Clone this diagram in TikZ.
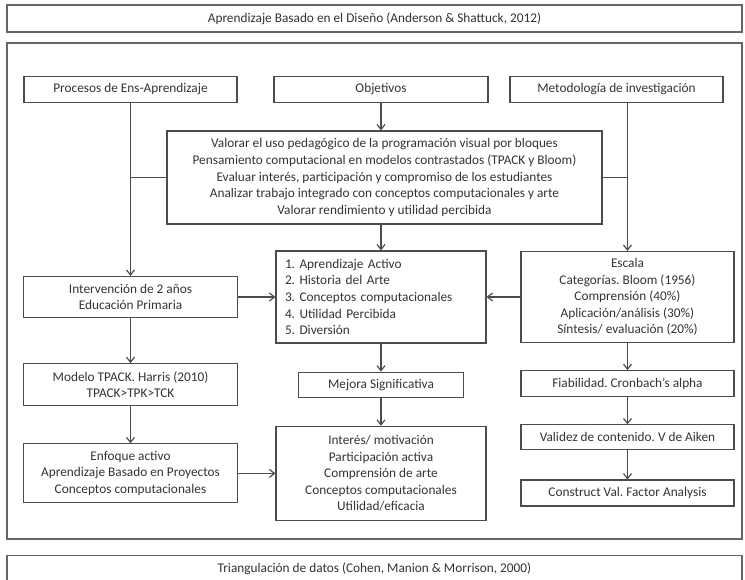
\documentclass[tikz,border=0pt]{standalone}
\usepackage{fontspec}
\setmainfont{Carlito}
\usetikzlibrary{arrows.meta,positioning}
\frenchspacing

\begin{document}
\begin{tikzpicture}[x=1pt,y=1pt,
	banner/.style={rectangle,draw=black!60,line width=1.2pt,minimum width=735pt,minimum height=27pt,inner sep=0pt,text=black!80,font=\fontsize{13.3}{16.5}\selectfont},
	frame/.style={rectangle,draw=black!60,line width=1.2pt,minimum width=735pt,minimum height=496pt,inner sep=0pt},
	block/.style={rectangle,draw=black!70,line width=1.2pt,inner sep=2pt,align=center,text=black!80,font=\fontsize{13.3}{16.6}\selectfont},
	listbox/.style={block,align=left,text width=192pt,inner xsep=9pt},
	paths/.style={-{Straight Barb[length=5pt,width=8pt]},line width=1.2pt,draw=black!70},
	link/.style={line width=1.2pt,draw=black!70}
	]
\clip (0,0) rectangle (745,579);

\node[banner](title) at (374.5,560.5) {Aprendizaje Basado en el Diseño (Anderson \& Shattuck, 2012)};
\node[frame](marco) at (374.5,288) {};
\node[banner](triang) at (374.5,10) {Triangulación de datos (Cohen, Manion \& Morrison, 2000)};

% fila superior
\node[block,minimum width=213pt,minimum height=26pt](procesos) at (130.5,489.5) {Procesos de Ens-Aprendizaje};
\node[block,minimum width=214pt,minimum height=26pt](objetivos) at (381,489.5) {Objetivos};
\node[block,minimum width=213pt,minimum height=26pt](metodologia) at (616.5,489.5) {Metodología de investigación};

\node[block,minimum width=435pt,minimum height=93pt](objs) at (384.5,401.5) {Valorar el uso pedagógico de la programación visual por bloques\\
	Pensamiento computacional en modelos contrastados (TPACK y Bloom)\\
	Evaluar interés, participación y compromiso de los estudiantes\\
	Analizar trabajo integrado con conceptos computacionales y arte\\
	Valorar rendimiento y utilidad percibida};

% columna izquierda
\node[block,minimum width=214pt,minimum height=41pt](intervencion) at (130.5,282) {Intervención de 2 años\\ Educación Primaria};
\node[block,minimum width=214pt,minimum height=42pt](modelo) [below = 45pt of intervencion] {Modelo TPACK. Harris (2010)\\ TPACK>TPK>TCK};
\node[block,minimum width=214pt,minimum height=59pt](enfoque) [below = 37pt of modelo] {Enfoque activo\\ Aprendizaje Basado en Proyectos\\ Conceptos computacionales};

% columna central
\node[listbox,minimum height=92pt](lista) at (381,282) {1. Aprendizaje Activo\\ 2. Historia del Arte\\ 3. Conceptos computacionales\\ 4. Utilidad Percibida\\ 5. Diversión};
\node[block,minimum width=165pt,minimum height=25pt](mejora) [below = 28pt of lista] {Mejora Significativa};
\node[block,minimum width=210pt,minimum height=94pt](interes) [below = 28pt of mejora] {Interés/ motivación\\ Participación activa\\ Comprensión de arte\\ Conceptos computacionales\\ Utilidad/eficacia};

% columna derecha
\node[block,minimum width=213pt,minimum height=91pt](escala) at (627.5,282) {Escala\\ Categorías. Bloom (1956)\\ Comprensión (40\%)\\ Aplicación/análisis (30\%)\\ Síntesis/ evaluación (20\%)};
\node[block,minimum width=213pt,minimum height=26pt](fiabilidad) [below = 27pt of escala] {Fiabilidad. Cronbach’s alpha};
\node[block,minimum width=213pt,minimum height=25pt](validez) [below = 27pt of fiabilidad] {Validez de contenido. V de Aiken};
\node[block,minimum width=213pt,minimum height=26pt](construct) [below = 29pt of validez] {Construct Val. Factor Analysis};

\draw[paths](objetivos.south) -- (objetivos.south |- objs.north);
\draw[paths](procesos.south) -- (intervencion.north);
\draw[paths](metodologia.south -| escala.north) -- (escala.north);
\draw[link](objs.west) -- (objs.west -| procesos.south);
\draw[link](objs.east) -- (objs.east -| escala.north);
\draw[paths](objs.south -| lista.north) -- (lista.north);

\draw[paths](intervencion.east) -- (lista.west);
\draw[paths](escala.west) -- (lista.east);

\draw[paths](intervencion) -- (modelo);
\draw[paths](modelo) -- (enfoque);
\draw[paths](lista) -- (mejora);
\draw[paths](mejora) -- (interes);
\draw[paths](enfoque.east) -- (enfoque.east -| interes.west);

\draw[paths](escala) -- (fiabilidad);
\draw[paths](fiabilidad) -- (validez);
\draw[paths](validez) -- (construct);
\end{tikzpicture}
\end{document}
